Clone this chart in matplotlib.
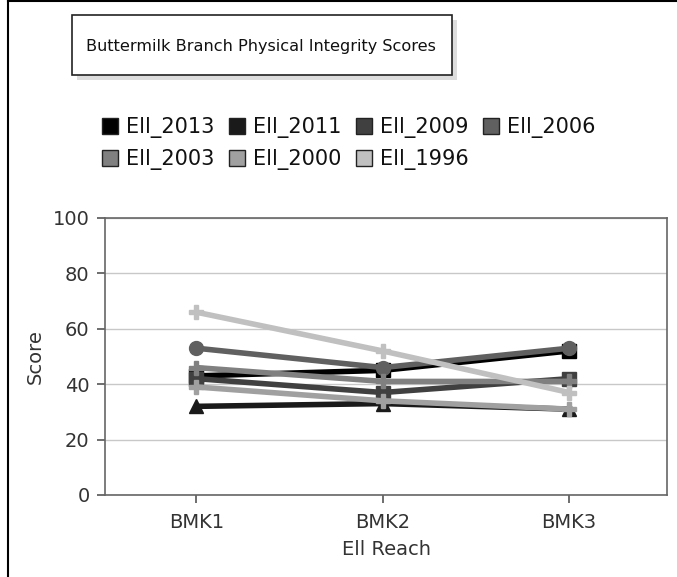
import matplotlib
matplotlib.use("Agg")
import matplotlib.pyplot as plt
from matplotlib.patches import Rectangle
from matplotlib.lines import Line2D

reaches = ["BMK1", "BMK2", "BMK3"]
series_names = ["Ell_2013", "Ell_2011", "Ell_2009", "Ell_2006", "Ell_2003", "Ell_2000", "Ell_1996"]
scores = {
    "Ell_2013": [43, 45, 52],
    "Ell_2011": [32, 33, 31],
    "Ell_2009": [42, 37, 42],
    "Ell_2006": [53, 46, 53],
    "Ell_2003": [46, 41, 41],
    "Ell_2000": [39, 34, 31],
    "Ell_1996": [66, 52, 37],
}
colors = ["#000000", "#1a1a1a", "#404040", "#606060", "#808080", "#a0a0a0", "#c0c0c0"]
markers = ["s", "^", "s", "o", "P", "P", "P"]

W, H = 677, 577
fig = plt.figure(figsize=(W / 100, H / 100), dpi=100)
plt.rcParams["font.family"] = ["DejaVu Sans"]

ax = fig.add_axes([105 / W, 1 - 495 / H, 562 / W, 277 / H])
x = list(range(len(reaches)))
# series drawn in order, so later (lighter) ones sit on top
for i, (name, c, m) in enumerate(zip(series_names, colors, markers)):
    ax.plot(x, scores[name], color=c, lw=4, marker=m, ms=10,
            markeredgecolor=c, solid_capstyle="butt", zorder=3 + i)

ax.set_xlim(-0.49, 2.525)
ax.set_ylim(0, 100)
ax.set_xticks(x)
ax.set_xticklabels(reaches)
ax.set_yticks([0, 20, 40, 60, 80, 100])
ax.yaxis.grid(True, color="#c8c8c8", lw=1)
ax.set_axisbelow(True)
for s in ax.spines.values():
    s.set_color("#666666")
    s.set_linewidth(1.2)
ax.tick_params(colors="#555555", labelcolor="#333333", labelsize=14, length=6, width=1.2, pad=5)
ax.tick_params(axis="x", pad=7)
ax.set_xlabel("Ell Reach", fontsize=14, color="#333333", labelpad=6)
ax.set_ylabel("Score", fontsize=14, color="#333333", labelpad=6)

# outer border (left, top)
fig.add_artist(Line2D([8 / W, 8 / W], [0, 1], color="black", lw=1.5))
fig.add_artist(Line2D([8 / W, 1], [1 - 1 / H, 1 - 1 / H], color="black", lw=1.5))

# title box with shadow
fig.add_artist(Rectangle((77 / W, 1 - 80 / H), 380 / W, 60 / H, facecolor="#dddddd",
                         edgecolor="none", transform=fig.transFigure))
fig.add_artist(Rectangle((72 / W, 1 - 75 / H), 380 / W, 60 / H, facecolor="white",
                         edgecolor="#222222", lw=1.2, transform=fig.transFigure))
fig.text(261 / W, 1 - 46 / H, "Buttermilk Branch Physical Integrity Scores",
         ha="center", va="center", fontsize=11.6, color="#111111")

# legend filled row by row, like the original
handles = [Line2D([], [], ls="none", marker="s", ms=12, markerfacecolor=c,
                  markeredgecolor="#222222", markeredgewidth=1, label=n)
           for n, c in zip(series_names, colors)]
order = [0, 4, 1, 5, 2, 6, 3]
fig.legend(handles=[handles[i] for i in order], loc="upper left",
           bbox_to_anchor=(102 / W, 1 - 117 / H), ncol=4, frameon=False, fontsize=15,
           handlelength=0.8, handletextpad=0.35, columnspacing=0.7, labelspacing=0.55,
           labelcolor="#111111", borderaxespad=0, borderpad=0)

fig.savefig("out.png", dpi=100)
